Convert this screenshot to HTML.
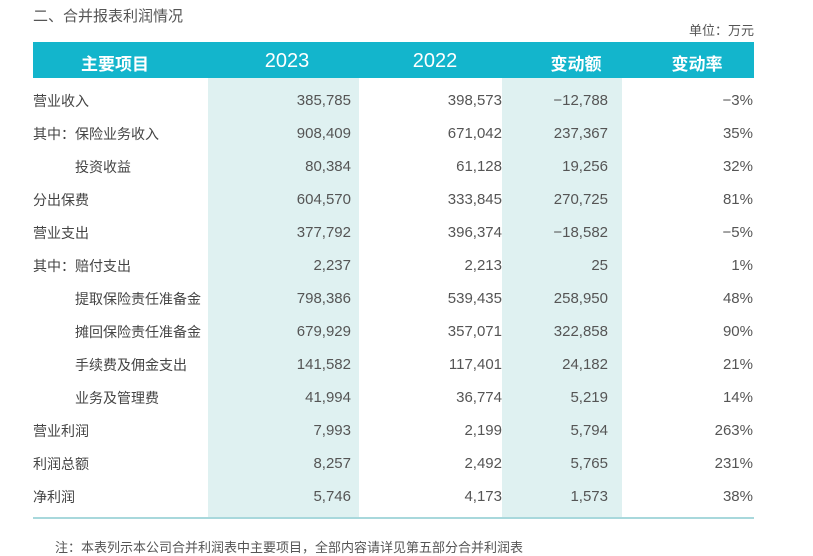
<!DOCTYPE html><html><head><meta charset="utf-8"><style>
body{margin:0;width:813px;height:544px;background:#fff;overflow:hidden;position:relative;font-family:"Liberation Sans","Noto Sans CJK SC",sans-serif;color:#444}
.a{position:absolute;white-space:nowrap}
.sh{position:absolute;background:#dff1f1;top:78px;height:440px}
.r{font-size:14px}
.n{font-size:15px;color:#555}
</style></head><body>
<div class="a" style="left:33px;top:5px;font-size:15px;color:#555">二、合并报表利润情况</div>
<div class="a" style="right:59px;top:20px;font-size:13px;color:#555">单位：万元</div>
<div class="a" style="left:33px;top:42px;width:721px;height:36px;background:#13b5cc"></div>
<div class="sh" style="left:208px;width:151px"></div>
<div class="sh" style="left:502px;width:120px"></div>
<div class="a" style="left:33px;top:517px;width:721px;height:2px;background:#a8d8dc"></div>
<div class="a" style="left:75px;top:50px;width:80px;text-align:center;color:#fff;font-size:17px;font-weight:bold">主要项目</div>
<div class="a" style="left:247px;top:50px;width:80px;text-align:center;color:#fff;font-size:20px">2023</div>
<div class="a" style="left:395px;top:50px;width:80px;text-align:center;color:#fff;font-size:20px">2022</div>
<div class="a" style="left:536px;top:50px;width:80px;text-align:center;color:#fff;font-size:17px;font-weight:bold">变动额</div>
<div class="a" style="left:657px;top:50px;width:80px;text-align:center;color:#fff;font-size:17px;font-weight:bold">变动率</div>
<div id="rows"></div>
<div class="a" style="left:55px;top:537px;font-size:13px;color:#555">注：本表列示本公司合并利润表中主要项目，全部内容请详见第五部分合并利润表</div>
<script>
const d=[["营业收入",0,"385,785","398,573","−12,788","−3%"],["其中：保险业务收入",0,"908,409","671,042","237,367","35%"],["投资收益",1,"80,384","61,128","19,256","32%"],["分出保费",0,"604,570","333,845","270,725","81%"],["营业支出",0,"377,792","396,374","−18,582","−5%"],["其中：赔付支出",0,"2,237","2,213","25","1%"],["提取保险责任准备金",1,"798,386","539,435","258,950","48%"],["摊回保险责任准备金",1,"679,929","357,071","322,858","90%"],["手续费及佣金支出",1,"141,582","117,401","24,182","21%"],["业务及管理费",1,"41,994","36,774","5,219","14%"],["营业利润",0,"7,993","2,199","5,794","263%"],["利润总额",0,"8,257","2,492","5,765","231%"],["净利润",0,"5,746","4,173","1,573","38%"]];
let h="";d.forEach((r,i)=>{const t=91+i*33;
h+=`<div class="a r" style="left:${r[1]?75:33}px;top:${t}px">${r[0]}</div>`;
[[351,2],[502,3],[608,4],[753,5]].forEach(([x,k])=>h+=`<div class="a n" style="right:${813-x}px;top:${t+1}px">${r[k]}</div>`)});
document.getElementById("rows").innerHTML=h;
</script></body></html>
